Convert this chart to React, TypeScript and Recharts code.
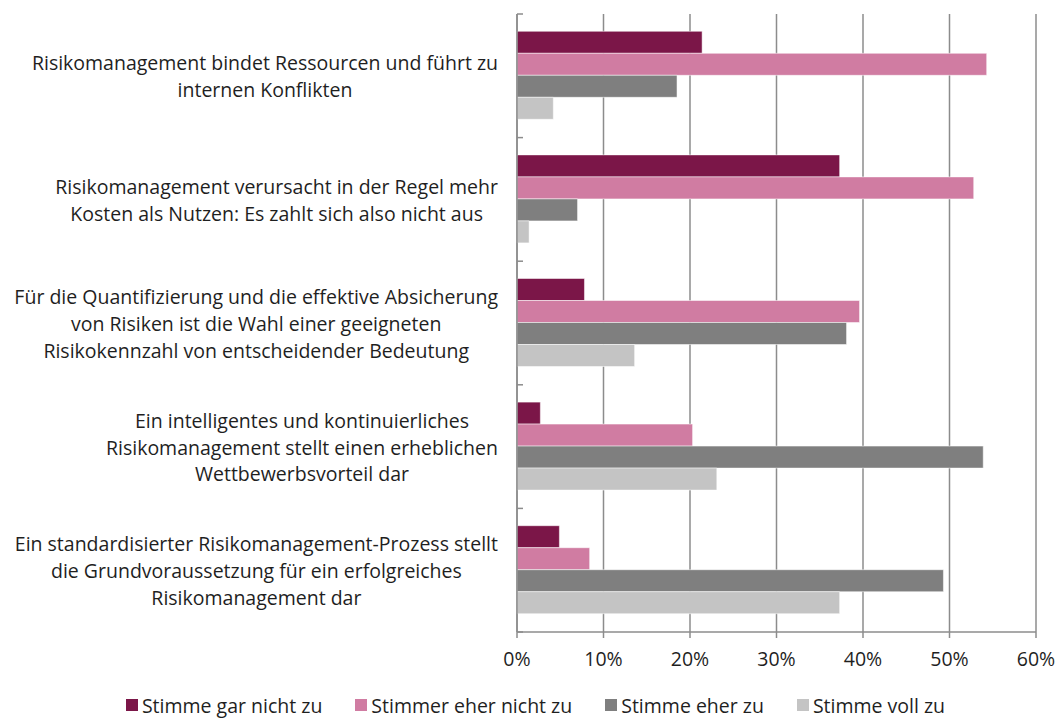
import React from "react";
import { BarChart, Bar, XAxis, YAxis, CartesianGrid, Legend } from "recharts";

const categories = [
  "Risikomanagement bindet Ressourcen und führt zu\ninternen Konflikten",
  "Risikomanagement verursacht in der Regel mehr\nKosten als Nutzen: Es zahlt sich also nicht aus",
  "Für die Quantifizierung und die effektive Absicherung\nvon Risiken ist die Wahl einer geeigneten\nRisikokennzahl von entscheidender Bedeutung",
  "Ein intelligentes und kontinuierliches\nRisikomanagement stellt einen erheblichen\nWettbewerbsvorteil dar",
  "Ein standardisierter Risikomanagement-Prozess stellt\ndie Grundvoraussetzung für ein erfolgreiches\nRisikomanagement dar",
];

const seriesNames = [
  "Stimme gar nicht zu",
  "Stimmer eher nicht zu",
  "Stimme eher zu",
  "Stimme voll zu",
];
const seriesColors = ["#7B1648", "#D07CA2", "#7F7F7F", "#C4C4C4"];

const garNicht = [21.4, 37.3, 7.8, 2.7, 4.9];
const eherNicht = [54.3, 52.8, 39.6, 20.3, 8.4];
const eherZu = [18.5, 7.0, 38.1, 53.9, 49.3];
const vollZu = [4.2, 1.4, 13.6, 23.1, 37.3];

const xTicks = [0, 10, 20, 30, 40, 50, 60];

const data = categories.map((c, i) => ({
  cat: c,
  s0: garNicht[i],
  s1: eherNicht[i],
  s2: eherZu[i],
  s3: vollZu[i],
}));

const FONT = "'Open Sans', 'Noto Sans', sans-serif";
const FONT_SIZE = 19.5;
const TEXT = "#1f1f1f";
const AXIS = "#8c8c8c";

let ctx: CanvasRenderingContext2D | null = null;
function measure(t: string): number {
  if (!ctx) {
    const c = document.createElement("canvas");
    ctx = c.getContext("2d");
  }
  if (!ctx) return t.length * 10.5;
  ctx.font = `${FONT_SIZE}px 'Open Sans'`;
  return ctx.measureText(t).width;
}

const CatTick = (props: any) => {
  const { x, y, payload, index, visibleTicksCount } = props;
  const lines: string[] = String(payload.value).split("\n");
  const lh = 26.8;
  const w = Math.max(...lines.map(measure));
  const right = x - 11;
  const cx = right - w / 2;
  const startY = y - ((lines.length - 1) * lh) / 2;
  const off = payload.offset ?? 61.8;
  const ax = x + 8;
  return (
    <g>
      <line x1={ax} x2={ax + 6} y1={y - off} y2={y - off} stroke={AXIS} strokeWidth={1.5} />
      {index === (visibleTicksCount ?? 5) - 1 && (
        <line x1={ax} x2={ax + 6} y1={y + off} y2={y + off} stroke={AXIS} strokeWidth={1.5} />
      )}
      <text
        x={cx}
        y={startY}
        textAnchor="middle"
        dominantBaseline="central"
        fontFamily={FONT}
        fontSize={FONT_SIZE}
        fill={TEXT}
      >
        {lines.map((l, i) => (
          <tspan key={i} x={cx} y={startY + i * lh} dominantBaseline="central">
            {l}
          </tspan>
        ))}
      </text>
    </g>
  );
};

const LegendContent = () => (
  <div
    style={{
      display: "flex",
      justifyContent: "center",
      alignItems: "center",
      gap: 33,
      paddingLeft: 35,
      paddingTop: 20,
      height: 46,
      boxSizing: "border-box",
      fontFamily: FONT,
      fontSize: FONT_SIZE,
      color: TEXT,
    }}
  >
    {seriesNames.map((n, i) => (
      <div key={n} style={{ display: "flex", alignItems: "center" }}>
        <span
          style={{
            display: "inline-block",
            width: 12,
            height: 12,
            background: seriesColors[i],
            marginRight: 4,
          }}
        />
        <span>{n}</span>
      </div>
    ))}
  </div>
);

export default function App() {
  return (
    <div style={{ position: "absolute", left: 0, top: 0, width: 1058, height: 718, background: "#fff" }}>
      <BarChart
        width={1058}
        height={718}
        data={data}
        layout="vertical"
        margin={{ top: 14, right: 22, left: 0, bottom: 0 }}
        barCategoryGap="14%"
        barGap={0}
      >
        <CartesianGrid horizontal={false} vertical={true} stroke={AXIS} strokeWidth={1.5} />
        <XAxis
          type="number"
          domain={[0, 60]}
          ticks={xTicks}
          tickFormatter={(v: number) => `${v}%`}
          axisLine={{ stroke: AXIS, strokeWidth: 1.5 }}
          tickLine={{ stroke: AXIS, strokeWidth: 1.5 }}
          tickSize={6}
          tick={{ fill: TEXT, fontFamily: FONT, fontSize: FONT_SIZE, dy: 12 }}
          height={40}
          interval={0}
        />
        <YAxis
          type="category"
          dataKey="cat"
          width={517}
          axisLine={{ stroke: AXIS, strokeWidth: 1.5 }}
          tickLine={false}
          tick={<CatTick />}
          interval={0}
        />
        <Legend verticalAlign="bottom" content={<LegendContent />} />
        {["s0", "s1", "s2", "s3"].map((k, i) => (
          <Bar
            key={k}
            dataKey={k}
            name={seriesNames[i]}
            fill={seriesColors[i]}
            stroke="rgba(255,255,255,0.5)"
            strokeWidth={1}
            isAnimationActive={false}
          />
        ))}
      </BarChart>
    </div>
  );
}
